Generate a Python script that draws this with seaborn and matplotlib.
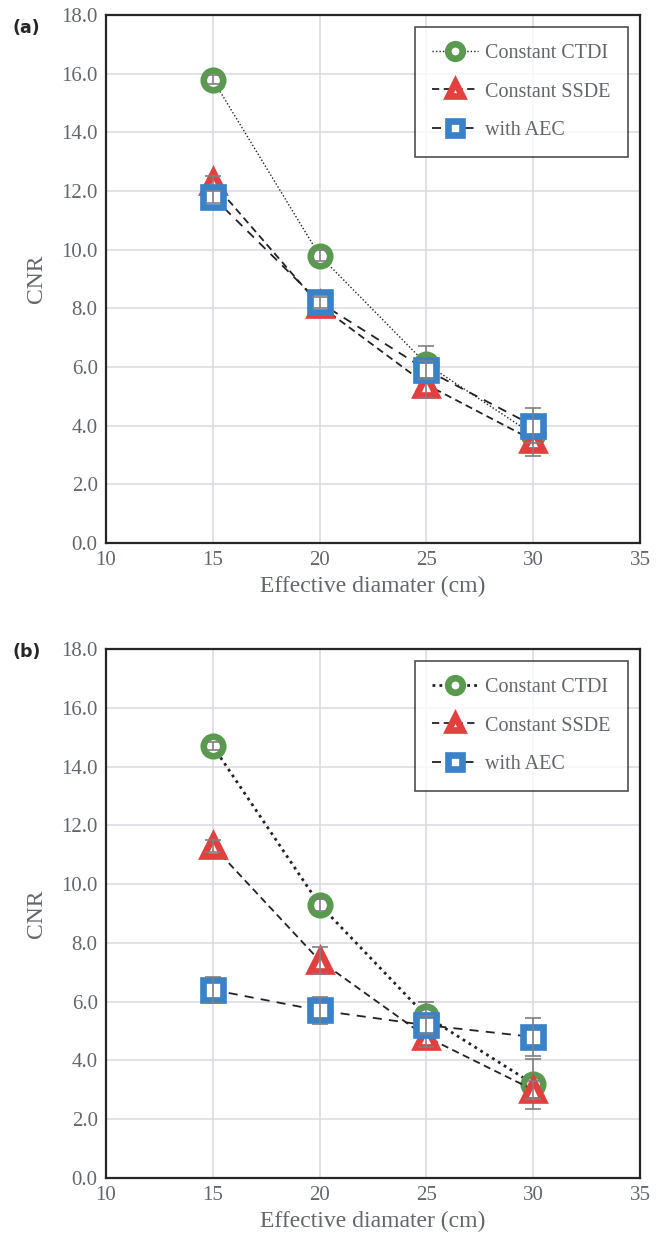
import pandas as pd
import numpy as np
import matplotlib
matplotlib.use("Agg")
import matplotlib.pyplot as plt
import seaborn as sns

# effective diameter (cm)
diameter = [15, 20, 25, 30]

# panel (a)
a_ctdi = [15.8, 9.8, 6.1, 3.7]
a_ssde = [12.3, 8.1, 5.4, 3.5]
a_aec = [11.8, 8.2, 5.9, 4.0]
a_ctdi_err = [0.15, 0.2, 0.6, 0.3]
a_ssde_err = [0.2, 0.2, 0.45, 0.55]
a_aec_err = [0.2, 0.2, 0.3, 0.6]

# panel (b)
b_ctdi = [14.7, 9.3, 5.5, 3.2]
b_ssde = [11.3, 7.4, 4.8, 3.0]
b_aec = [6.4, 5.7, 5.2, 4.8]
b_ctdi_err = [0.15, 0.2, 0.5, 0.85]
b_ssde_err = [0.2, 0.45, 0.35, 0.3]
b_aec_err = [0.45, 0.45, 0.3, 0.65]

labels = ["Constant CTDI", "Constant SSDE", "with AEC"]

sns.set_style("white")
plt.rcParams['font.family'] = ['Liberation Serif', 'DejaVu Serif']

green = "#5a9a4e"
red = "#e2403f"
blue = "#3a82c8"
txt = "#62666b"

fig = plt.figure(figsize=(6.62, 12.36), dpi=100)
W, H = 662, 1236
ax_a = fig.add_axes([106 / W, 1 - 543 / H, 534 / W, 528 / H])
ax_b = fig.add_axes([106 / W, 1 - 1178 / H, 534 / W, 529 / H])


def draw(ax, ctdi, ssde, aec, e1, e2, e3, dot_lw):
    series = [
        (ctdi, e1, "o", green, (0, (1, 1.5)), dot_lw, 1),
        (ssde, e2, "^", red, (0, (4, 2.5)), 1.3, 2),
        (aec, e3, "s", blue, (0, (5, 4)), 1.3, 3),
    ]
    for (vals, err, mk, col, ls, lw, z), lab in zip(series, labels):
        df = pd.DataFrame({"d": diameter, "cnr": vals})
        sns.lineplot(data=df, x="d", y="cnr", ax=ax, color="#222222",
                     linestyle=ls, linewidth=lw, marker=mk, markersize=14,
                     markerfacecolor="white", markeredgecolor=col,
                     markeredgewidth=4.8, label=lab, zorder=z + 2)
        ax.errorbar(diameter, vals, yerr=err, fmt="none", ecolor="#7f7f7f",
                    elinewidth=1.2, capsize=6, capthick=1.2, zorder=z + 2.5)
    ax.set_xlim(10, 35)
    ax.set_ylim(0, 18)
    ax.set_xticks(np.arange(10, 36, 5))
    ax.set_yticks(np.arange(0, 18.1, 2))
    ax.set_yticklabels([f"{v:.1f}" for v in np.arange(0, 18.1, 2)])
    ax.grid(True, color="#dcdce3", linewidth=1.2)
    ax.set_axisbelow(True)
    ax.tick_params(labelsize=15, labelcolor=txt, length=0, pad=6)
    ax.set_xlabel("Effective diamater (cm)", fontsize=17, color=txt, labelpad=4)
    ax.set_ylabel("CNR", fontsize=17, color=txt, labelpad=10)
    for s in ax.spines.values():
        s.set_color("#262626")
        s.set_linewidth(1.6)
    leg = ax.legend(loc="upper right", fontsize=14.5, frameon=True, fancybox=False,
                    edgecolor="#222222", labelspacing=0.95, handlelength=2.3,
                    borderpad=0.85, handletextpad=0.35, borderaxespad=0.6,
                    markerscale=0.75)
    leg.get_frame().set_linewidth(1.2)
    for t in leg.get_texts():
        t.set_color(txt)


draw(ax_a, a_ctdi, a_ssde, a_aec, a_ctdi_err, a_ssde_err, a_aec_err, 1.0)
draw(ax_b, b_ctdi, b_ssde, b_aec, b_ctdi_err, b_ssde_err, b_aec_err, 2.0)

fig.text(12 / W, 1 - 28 / H, "(a)", fontsize=12.5, fontweight="bold",
         family="DejaVu Sans", va="center", ha="left")
fig.text(12 / W, 1 - 652 / H, "(b)", fontsize=12.5, fontweight="bold",
         family="DejaVu Sans", va="center", ha="left")

fig.savefig("out.png", dpi=100)
